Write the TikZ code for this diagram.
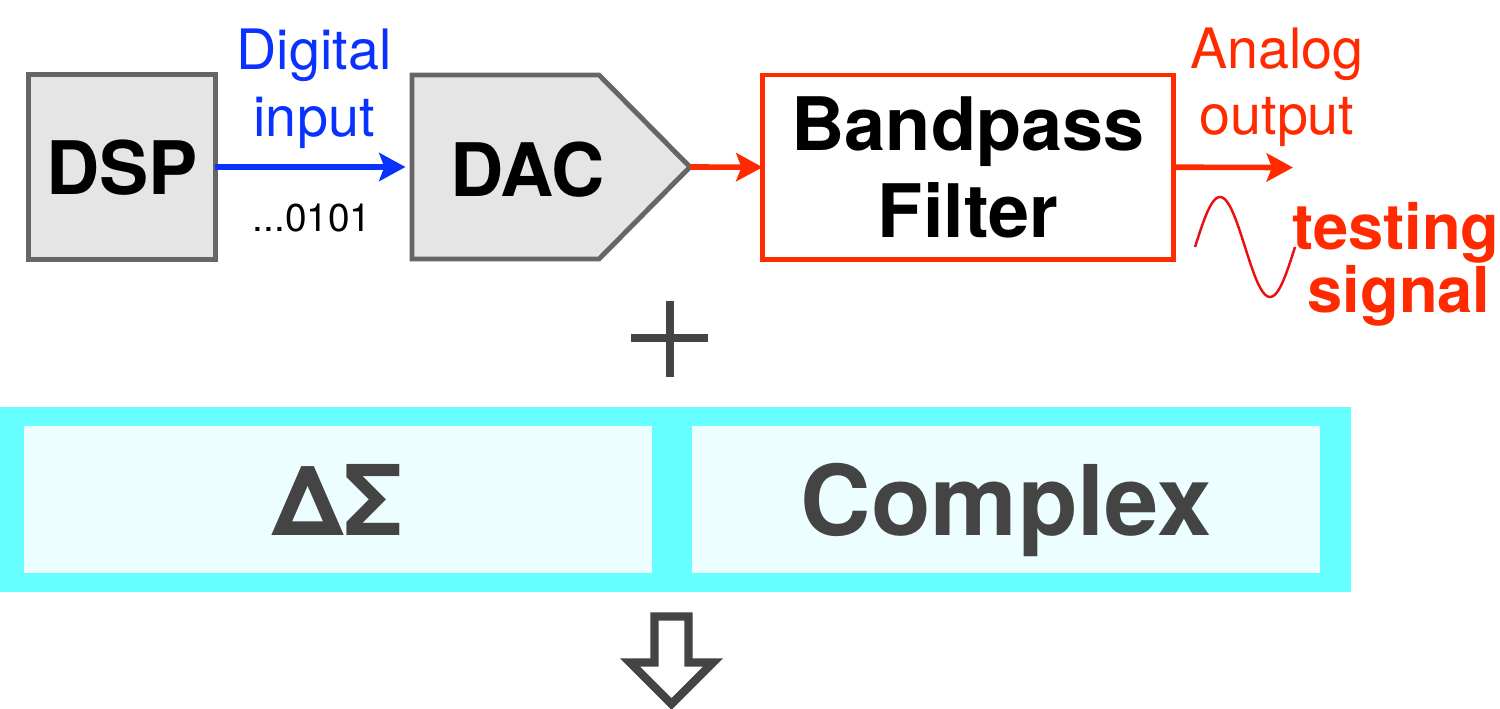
\documentclass[tikz,border=0pt]{standalone}
\usepackage{fontspec}
\setmainfont{TeX Gyre Heros}
\usetikzlibrary{arrows.meta}

\definecolor{boxgray}{RGB}{229,229,229}
\definecolor{edgegray}{RGB}{102,102,102}
\definecolor{sigblue}{RGB}{10,50,255}
\definecolor{sigred}{RGB}{255,42,0}
\definecolor{wavered}{RGB}{235,15,15}
\definecolor{cyanband}{RGB}{102,255,255}
\definecolor{cyancell}{RGB}{236,254,255}
\definecolor{darkink}{RGB}{68,68,68}

\tikzset{
  blockgray/.style={draw=edgegray, fill=boxgray, line width=2.8pt, line join=miter},
  filterbox/.style={draw=sigred, fill=white, line width=2.8pt, inner sep=0pt, outer sep=0pt,
    align=center, font=\bfseries\fontsize{42pt}{49.3pt}\selectfont},
  blocktext/.style={inner sep=0pt, outer sep=0pt, text depth=0pt,
    font=\bfseries\fontsize{42pt}{48pt}\selectfont},
  sigtip/.style={-{Stealth[length=15pt, width=16pt, inset=3pt]}},
  bluewire/.style={sigtip, draw=sigblue, line width=3.2pt},
  redwire/.style={sigtip, draw=sigred, line width=3.2pt},
  thinlabel/.style={inner sep=0pt, anchor=base, font=\fontsize{31.7pt}{38pt}\selectfont},
  bitslabel/.style={inner sep=0pt, anchor=base, font=\fontsize{22.1pt}{26pt}\selectfont},
  boldlabel/.style={inner sep=0pt, anchor=base, text=sigred,
    font=\bfseries\fontsize{36pt}{40pt}\selectfont},
  wave/.style={draw=wavered, line width=1.4pt},
  band/.style={fill=cyanband, draw=none, inner sep=0pt, outer sep=0pt},
  cell/.style={fill=cyancell, draw=none, inner sep=0pt, outer sep=0pt, text=darkink,
    text depth=0pt, minimum width=12.56cm, minimum height=2.94cm,
    font=\bfseries\fontsize{55.5pt}{60pt}\selectfont},
  inkline/.style={draw=darkink, line width=4.4pt},
  hollowarrow/.style={draw=darkink, line width=4.8pt, line join=miter, fill=white}
}

\begin{document}
\begin{tikzpicture}[x=0.02cm, y=-0.02cm]
  \useasboundingbox (0,0) rectangle (1500,709);

  % signal chain: DSP -> DAC -> bandpass filter
  \node[blockgray, blocktext, minimum width=3.74cm, minimum height=3.70cm] (dsp) at (122,167) {DSP};

  \draw[blockgray] (412,75) -- (599,75) -- (690,167) -- (599,259) -- (412,259) -- cycle;
  \coordinate (dacin) at (412,167);
  \coordinate (dactip) at (690,167);
  \node[blocktext] (dac) at (527.5,169) {DAC};

  \node[filterbox, minimum width=8.22cm, minimum height=3.69cm] (bpf) at (968,167.25) {Bandpass\\Filter};
  \coordinate (outend) at (1293,167.5);

  \draw[bluewire, shorten >=0.13cm] (dsp.east) -- (dacin);
  \draw[redwire] (dactip) -- (bpf.west);
  \draw[redwire] (bpf.east) -- (outend);

  % wire labels
  \node[thinlabel, text=sigblue] (diglbl) at (314,70) {Digital};
  \node[thinlabel, text=sigblue] (inplbl) at (314,137) {input};
  \node[bitslabel] (bits) at (312,232) {...0101};
  \node[thinlabel, text=sigred] (analbl) at (1277,69) {Analog};
  \node[thinlabel, text=sigred] (outlbl) at (1277,135) {output};

  % test tone
  \draw[wave] plot[domain=0:100, samples=80, smooth] ({1195+\x},{247-50*sin(3.6*\x)});
  \node[boldlabel] (testlbl) at (1396,250) {testing};
  \node[boldlabel] (siglbl) at (1399,313) {signal};

  % plus sign
  \draw[inkline] (631,338) -- (708,338);
  \draw[inkline] (670,301) -- (670,377);

  % modulator band
  \node[band, minimum width=27.02cm, minimum height=3.70cm] (bandbg) at (675.5,499.5) {};
  \node[cell] (deltasigma) at (338,499.5) {ΔΣ};
  \node[cell] (complex) at (1006,499.5) {Complex};

  % hollow down arrow
  \draw[hollowarrow] (654.5,616.5) -- (688.5,616.5) -- (688.5,662.5) -- (713,662.5)
    -- (671.5,704) -- (630,662.5) -- (654.5,662.5) -- cycle;
\end{tikzpicture}
\end{document}
